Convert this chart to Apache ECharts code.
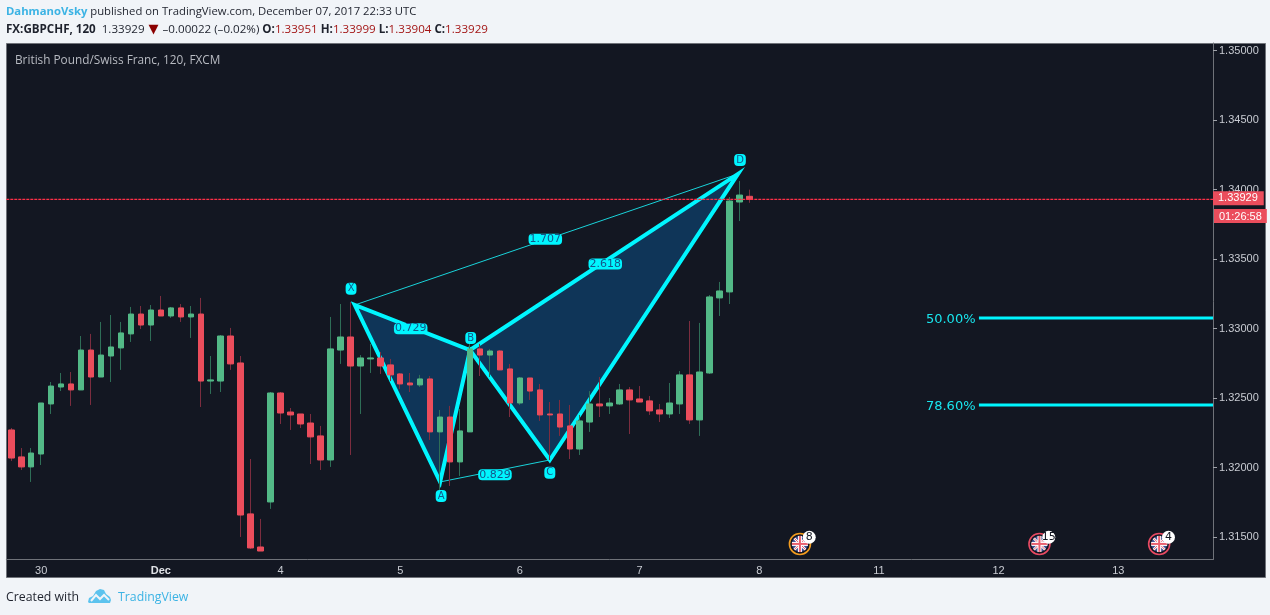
<!DOCTYPE html>
<html><head><meta charset="utf-8">
<style>html,body{margin:0;padding:0;background:#f1f4f8}#c{width:1270px;height:615px}</style>
<script src="https://cdn.jsdelivr.net/npm/echarts@6/dist/echarts.min.js"></script>
</head><body><div id="c"></div>
<script>
const opens=[1.32270,1.32076,1.32004,1.32097,1.32457,1.32579,1.32601,1.32558,1.32845,1.32651,1.32802,1.32860,1.32961,1.33104,1.33025,1.33133,1.33090,1.33148,1.33083,1.33104,1.32622,1.32622,1.32946,1.32752,1.31666,1.31428,1.31752,1.32536,1.32399,1.32385,1.32320,1.32227,1.32054,1.32845,1.32939,1.32730,1.32781,1.32788,1.32738,1.32673,1.32608,1.32594,1.32637,1.32256,1.32363,1.32040,1.32256,1.32853,1.32809,1.32838,1.32709,1.32464,1.32644,1.32558,1.32385,1.32385,1.32299,1.32133,1.32327,1.32457,1.32443,1.32457,1.32558,1.32493,1.32479,1.32414,1.32385,1.32457,1.32666,1.32342,1.32680,1.33220,1.33263,1.33910,1.33951];
const closes=[1.32068,1.32004,1.32104,1.32464,1.32586,1.32601,1.32558,1.32845,1.32651,1.32809,1.32867,1.32968,1.33104,1.33025,1.33133,1.33090,1.33148,1.33083,1.33104,1.32622,1.32630,1.32946,1.32745,1.31658,1.31421,1.31399,1.32536,1.32392,1.32378,1.32313,1.32220,1.32054,1.32853,1.32939,1.32730,1.32788,1.32788,1.32730,1.32666,1.32601,1.32594,1.32637,1.32256,1.32363,1.32040,1.32263,1.32853,1.32809,1.32838,1.32702,1.32464,1.32644,1.32550,1.32378,1.32378,1.32291,1.32133,1.32335,1.32457,1.32443,1.32464,1.32558,1.32486,1.32471,1.32407,1.32385,1.32464,1.32666,1.32342,1.32687,1.33227,1.33270,1.33917,1.33960,1.33929];
const highs=[1.32284,1.32140,1.32140,1.32464,1.32615,1.32680,1.32687,1.32946,1.32961,1.33047,1.33097,1.33047,1.33155,1.33162,1.33169,1.33234,1.33155,1.33176,1.33162,1.33220,1.32802,1.32953,1.33004,1.32802,1.32061,1.31630,1.32543,1.32543,1.32428,1.32385,1.32385,1.32299,1.33083,1.33176,1.33191,1.32809,1.32889,1.32831,1.32781,1.32680,1.32680,1.32666,1.32658,1.32414,1.32443,1.32421,1.32893,1.32889,1.32853,1.32845,1.32745,1.32651,1.32644,1.32601,1.32471,1.32486,1.32450,1.32378,1.32550,1.32651,1.32500,1.32601,1.32579,1.32586,1.32514,1.32457,1.32608,1.32694,1.33054,1.33040,1.33241,1.33335,1.33946,1.34061,1.33999];
const lows=[1.32047,1.31982,1.31896,1.32018,1.32385,1.32550,1.32443,1.32558,1.32450,1.32651,1.32615,1.32702,1.32903,1.32996,1.32910,1.33090,1.33076,1.33047,1.32932,1.32435,1.32529,1.32543,1.32702,1.31500,1.31414,1.31399,1.31702,1.32313,1.32270,1.32284,1.32025,1.31982,1.32004,1.32745,1.32090,1.32385,1.32680,1.32673,1.32622,1.32565,1.32543,1.32579,1.32198,1.31838,1.31867,1.31939,1.32256,1.32658,1.32651,1.32702,1.32363,1.32450,1.32486,1.32335,1.32054,1.32227,1.32061,1.32090,1.32256,1.32363,1.32385,1.32450,1.32241,1.32471,1.32378,1.32327,1.32356,1.32385,1.32313,1.32227,1.32673,1.33090,1.33176,1.33773,1.33904];
const slotCount=121;
const dayTickSlots=[3,15,27,39,51,63,75,87,99,111];
const dayTickLabels=["30","Dec","4","5","6","7","8","11","12","13"];
const priceTicks=[1.315,1.32,1.325,1.33,1.335,1.34,1.345,1.35];
const lastPrice=1.33929;
// harmonic pattern X A B C D
const pivotSlot=[34.44,43,46,54,72.87];
const pivotPrice=[1.33169,1.31896,1.32845,1.32054,1.34112];
const pivotNames=["X","A","B","C","D"];
const pivotLabelSlot=[34.07,43.1,46.07,54,73.07];
const pivotLabelPrice=[1.33286,1.31795,1.32932,1.31963,1.34212];
const ratioNames=["0.729","1.707","2.618","0.829"];
const ratioSlot=[40.05,53.55,59.56,48.5];
const ratioPrice=[1.32999,1.33642,1.33464,1.31948];
const targetNames=["50.00%","78.60%"];
const targetPrice=[1.33076,1.32450];
const targetLabelPrice=[1.33065,1.32435];
const targetFrom=97.03, targetTo=120.5;
const eventSlot=[79.08,103.1,115.1];
const eventPrice=[1.3145,1.3145,1.3145];
const eventCount=["8","15","4"];
const eventImpact=["medium","high","high"];

const UP='#53b987',DOWN='#eb4d5c',CY='#00f6ff',FILL='rgba(10,90,155,0.45)';
const UI='"Open Sans",sans-serif', AX='"Liberation Sans",Arial,sans-serif', PT='"DejaVu Sans",sans-serif';
const categories=Array.from({length:slotCount},(_,i)=>{const k=dayTickSlots.indexOf(i);return k<0?'':dayTickLabels[k];});
const isDay=i=>dayTickSlots.indexOf(i)>=0;
const wick=opens.map((o,i)=>[o,closes[i],lows[i],highs[i]]);
const body=opens.map((o,i)=>[o,closes[i],Math.min(o,closes[i]),Math.max(o,closes[i])]);
const pt=k=>[pivotSlot[k],pivotPrice[k]];
const tri=(a,b,c)=>[...pt(a),...pt(b),...pt(c)];

function textSeries(xs,ys,names,style){
  return {type:'custom',xAxisIndex:1,yAxisIndex:0,z:8,silent:true,clip:false,
    data:xs.map((x,i)=>[x,ys[i]]),
    renderItem(p,api){
      const c=api.coord([api.value(0),api.value(1)]);
      return {type:'text',x:c[0],y:c[1],style:Object.assign({text:names[p.dataIndex],align:'center',verticalAlign:'middle'},style)};
    }};
}

const chart=echarts.init(document.getElementById('c'),null,{renderer:'canvas'});
chart.setOption({
  animation:false,
  backgroundColor:'#f1f4f8',
  grid:{left:6.3,right:57,top:43,bottom:55.5,containLabel:false},
  xAxis:[{
    type:'category',data:categories,boundaryGap:true,
    axisLine:{lineStyle:{color:'#6f7279',width:1}},
    axisTick:{alignWithLabel:true,length:3,interval:i=>isDay(i),lineStyle:{color:'#6f7279'}},
    axisLabel:{interval:i=>isDay(i),margin:6,color:'#c8cbd2',fontFamily:AX,fontSize:11,
      formatter:v=>v==='Dec'?'{b|Dec}':v,rich:{b:{fontWeight:'bold',color:'#dfe1e6',fontFamily:AX,fontSize:11}}},
    splitLine:{show:false}
  },{
    type:'value',min:-0.5,max:slotCount-0.5,show:false,splitLine:{show:false}
  }],
  yAxis:{
    type:'value',position:'right',min:1.31338,max:1.35054,scale:true,
    axisLine:{show:true,onZero:false,lineStyle:{color:'#6f7279',width:1}},
    axisTick:{show:true,length:4,customValues:priceTicks,lineStyle:{color:'#a0a3aa'}},
    axisLabel:{customValues:priceTicks,margin:6,color:'#c8cbd2',fontFamily:AX,fontSize:11,formatter:v=>v.toFixed(5)},
    splitLine:{show:false}
  },
  graphic:[
    {type:'rect',z:-10,shape:{x:6.5,y:43.5,width:1259,height:534},style:{fill:'#131722',stroke:'#6f7279',lineWidth:1}},
    {type:'text',x:6,y:6,style:{text:'{u|DahmanoVsky} published on TradingView.com, December 07, 2017 22:33 UTC',
      font:'11.3px '+UI,fill:'#1e222d',rich:{u:{fill:'#3bb3e4',font:'bold 11.3px '+UI}}}},
    {type:'text',x:6,y:23,style:{text:'{k|FX:GBPCHF, 120}  1.33929 {t|▼} –0.00022 (–0.02%) {k|O:}{r|1.33951} {k|H:}{r|1.33999} {k|L:}{r|1.33904} {k|C:}{r|1.33929}',
      font:'11.6px '+UI,fill:'#1e222d',rich:{k:{font:'bold 11.6px '+UI,fill:'#1e222d'},r:{fill:'#a31515',font:'11.6px '+UI},t:{fill:'#8b0000',font:'13px '+PT,padding:[0,1]}}}},
    {type:'text',x:15,y:55,style:{text:'British Pound/Swiss Franc, 120, FXCM',font:'11.8px '+UI,fill:'#b8bbc2'}},
    {type:'text',z:20,x:1214,y:209,style:{text:'01:26:58',font:'11px '+AX,fill:'#fff',backgroundColor:DOWN,padding:[2,5,1,5],lineHeight:11}},
    {type:'text',x:6,y:591,style:{text:'Created with',font:'12.3px '+UI,fill:'#1e222d'}},
    {type:'text',x:118,y:591,style:{text:'TradingView',font:'12.3px '+UI,fill:'#3bb3e4'}},
    {type:'polygon',shape:{points:[[88,602],[89,598],[93,596],[96,591],[100,589],[104,590],[106,594],[110,597],[111,600],[110,603],[89,603]]},style:{fill:'#5cc3ee'}},
    {type:'polyline',shape:{points:[[91,601],[96,595],[100,599],[104,595],[109,600]]},style:{stroke:'#f1f4f8',lineWidth:2,fill:null}}
  ],
  series:[
    {type:'custom',name:'pattern fill',xAxisIndex:1,yAxisIndex:0,z:2,silent:true,
      encode:{x:[0,2,4],y:[1,3,5]},
      data:[tri(0,1,2),tri(2,3,4)],
      renderItem(p,api){
        const pts=[0,2,4].map(k=>api.coord([api.value(k),api.value(k+1)]));
        return {type:'polygon',shape:{points:pts},style:{fill:FILL}};
      }},
    {type:'line',name:'pattern thin',xAxisIndex:1,yAxisIndex:0,z:3,silent:true,showSymbol:false,
      data:[pt(0),pt(4)],lineStyle:{color:'#19d3da',width:1}},
    {type:'line',name:'pattern thin 2',xAxisIndex:1,yAxisIndex:0,z:3,silent:true,showSymbol:false,
      data:[pt(1),pt(3)],lineStyle:{color:'#19d3da',width:1}},
    {type:'line',name:'pattern legs',xAxisIndex:1,yAxisIndex:0,z:3,silent:true,showSymbol:false,
      data:[pt(2),pt(0),pt(1),pt(2),pt(3),pt(4),pt(2)],lineStyle:{color:CY,width:4,join:'miter',miterLimit:10}},
    {type:'candlestick',name:'wicks',xAxisIndex:0,yAxisIndex:0,z:4,silent:true,barWidth:0,data:wick,
      itemStyle:{color:'#2e6e57',color0:'#7c2d3f',borderColor:'#2e6e57',borderColor0:'#7c2d3f',borderWidth:1}},
    {type:'candlestick',name:'GBPCHF',xAxisIndex:0,yAxisIndex:0,z:5,silent:true,barWidth:6,data:body,
      itemStyle:{color:UP,color0:DOWN,borderColor:UP,borderColor0:DOWN,borderWidth:1}},
    {type:'line',name:'last price',xAxisIndex:1,yAxisIndex:0,z:6,silent:true,showSymbol:false,clip:false,
      data:[[-0.5,lastPrice],[slotCount-0.5,lastPrice]],
      lineStyle:{color:'#ff3048',type:[3,1],width:1.2,opacity:1},
      endLabel:{show:true,distance:0,offset:[0,-1],formatter:lastPrice.toFixed(5),color:'#fff',fontFamily:AX,fontSize:11,
        backgroundColor:DOWN,padding:[2,6,1,5],lineHeight:11}},
    ...targetPrice.map((p,i)=>({type:'line',name:targetNames[i],xAxisIndex:1,yAxisIndex:0,z:3,silent:true,showSymbol:false,
      data:[[targetFrom,p],[targetTo,p]],lineStyle:{color:CY,width:3}})),
    textSeries(targetPrice.map(()=>94.2),targetLabelPrice,targetNames,{fill:'#19e6ee',font:'13px '+PT}),
    textSeries(ratioSlot,ratioPrice,ratioNames,{fill:'#14568a',font:'11px '+PT,backgroundColor:CY,borderRadius:4,padding:[0,1]}),
    textSeries(pivotLabelSlot,pivotLabelPrice,pivotNames,{fill:'#14568a',font:'10px '+PT,backgroundColor:CY,borderRadius:4,padding:[1,2]}),
    {type:'custom',name:'events',xAxisIndex:1,yAxisIndex:0,z:8,silent:true,clip:false,
      data:eventSlot.map((x,i)=>[x,eventPrice[i]]),
      renderItem(p,api){
        const c=api.coord([api.value(0),api.value(1)]),i=p.dataIndex;
        const ring=eventImpact[i]==='high'?'#e94a63':'#f39c1f';
        const ln=(a,b,d,e,col,w)=>({type:'line',shape:{x1:a,y1:b,x2:d,y2:e},style:{stroke:col,lineWidth:w}});
        return {type:'group',x:c[0],y:c[1],children:[
          {type:'circle',shape:{r:10.5},style:{fill:'#131722',stroke:ring,lineWidth:1.6}},
          {type:'circle',shape:{r:8},style:{fill:'#3f4f92'}},
          ln(-5.6,-5.6,5.6,5.6,'#fff',2.4),ln(-5.6,5.6,5.6,-5.6,'#fff',2.4),
          ln(-5.6,-5.6,5.6,5.6,'#e9606f',1),ln(-5.6,5.6,5.6,-5.6,'#e9606f',1),
          ln(-8,0,8,0,'#fff',4),ln(0,-8,0,8,'#fff',4),
          ln(-8,0,8,0,'#e9606f',2),ln(0,-8,0,8,'#e9606f',2),
          {type:'circle',shape:{cx:9.3,cy:-6.7,r:6.5},style:{fill:'#fff'}},
          {type:'text',x:9.3,y:-6.5,style:{text:eventCount[i],align:'center',verticalAlign:'middle',fill:'#131722',font:'11px '+PT}}
        ]};
      }}
  ]
});
</script></body></html>
